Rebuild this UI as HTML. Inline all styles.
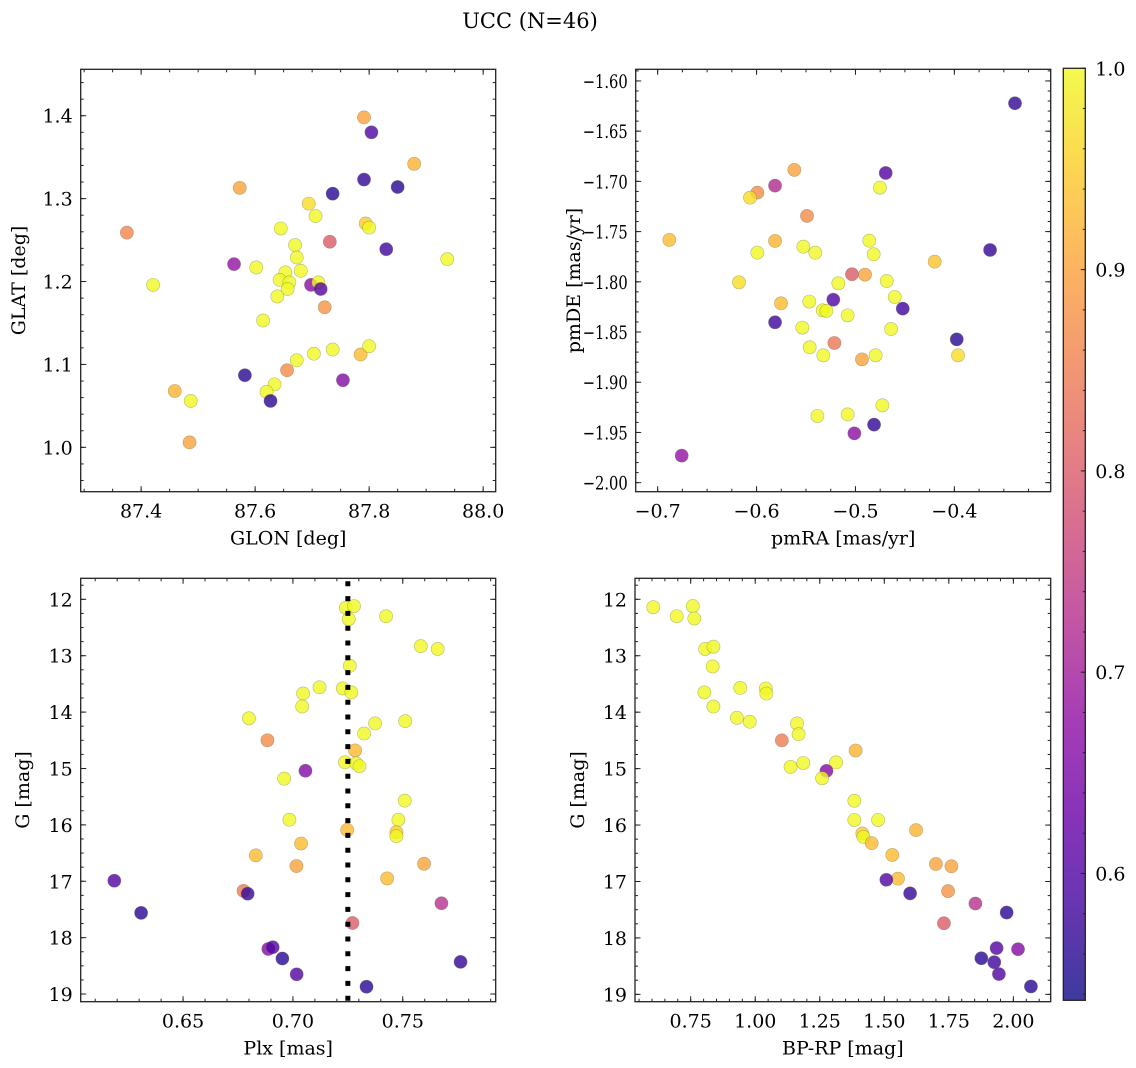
<!DOCTYPE html>
<html><head><meta charset="utf-8"><style>
html,body{margin:0;padding:0;background:#fff;}
svg{display:block;font-family:"DejaVu Serif","Liberation Serif",serif;}
</style></head><body>
<svg id="fig" width="1136" height="1068" viewBox="0 0 1136 1068" xmlns="http://www.w3.org/2000/svg">
<defs>
<linearGradient id="plasma" x1="0" y1="1" x2="0" y2="0">
<stop offset="0" stop-color="#0d0887"/><stop offset="0.1" stop-color="#41049d"/><stop offset="0.2" stop-color="#6a00a8"/><stop offset="0.3" stop-color="#8f0da4"/><stop offset="0.4" stop-color="#b12a90"/><stop offset="0.5" stop-color="#cc4778"/><stop offset="0.6" stop-color="#e16462"/><stop offset="0.7" stop-color="#f2844b"/><stop offset="0.8" stop-color="#fca636"/><stop offset="0.9" stop-color="#fcce25"/><stop offset="1" stop-color="#f0f921"/>
</linearGradient>
</defs>
<text x="530" y="28" text-anchor="middle" font-size="21">UCC (N=46)</text>
</svg>
<script>
// ---- data: panel 1 (GLON vs GLAT)
const glon = [87.791,87.804,87.879,87.573,87.736,87.791,87.850,87.694,87.706,87.375,87.645,87.794,87.800,87.731,87.670,87.830,87.563,87.602,87.673,87.680,87.653,87.937,87.421,87.643,87.660,87.657,87.698,87.711,87.715,87.639,87.722,87.614,87.736,87.703,87.673,87.785,87.800,87.656,87.754,87.582,87.634,87.620,87.459,87.487,87.627,87.485];
const glat = [1.398,1.380,1.342,1.313,1.306,1.323,1.314,1.294,1.279,1.259,1.264,1.270,1.265,1.248,1.244,1.239,1.221,1.217,1.229,1.213,1.211,1.227,1.196,1.202,1.199,1.191,1.196,1.199,1.191,1.182,1.169,1.153,1.118,1.113,1.105,1.112,1.122,1.093,1.081,1.087,1.076,1.067,1.068,1.056,1.056,1.006];
const probPos = [0.9,0.6,0.92,0.9,0.56,0.57,0.56,0.97,1,0.86,1,0.95,1,0.8,1,0.58,0.68,1,1,1,1,1,1,1,1,1,0.67,1,0.6,1,0.88,1,1,1,1,0.93,1,0.87,0.66,0.56,1,1,0.92,1,0.56,0.9];
// ---- data: panel 2 (pmRA vs pmDE)
const pmra = [-0.3387,-0.4694,-0.4752,-0.5618,-0.5813,-0.5992,-0.6066,-0.5490,-0.6882,-0.5813,-0.5992,-0.5527,-0.5406,-0.4860,-0.4816,-0.3639,-0.4199,-0.5035,-0.4903,-0.6178,-0.5173,-0.4684,-0.5753,-0.5467,-0.5224,-0.4603,-0.4522,-0.5331,-0.5294,-0.5079,-0.5813,-0.5537,-0.4640,-0.5213,-0.3976,-0.5463,-0.5325,-0.4934,-0.4796,-0.3963,-0.4728,-0.5079,-0.5385,-0.4812,-0.5011,-0.6757];
const pmde = [-1.6222,-1.6916,-1.7062,-1.6886,-1.7042,-1.7112,-1.7162,-1.7344,-1.7583,-1.7593,-1.7710,-1.7650,-1.7710,-1.7590,-1.7726,-1.7683,-1.7799,-1.7925,-1.7929,-1.8005,-1.8015,-1.7992,-1.8214,-1.8197,-1.8178,-1.8151,-1.8267,-1.8284,-1.8290,-1.8334,-1.8403,-1.8456,-1.8470,-1.8609,-1.8573,-1.8652,-1.8732,-1.8772,-1.8732,-1.8732,-1.9230,-1.9320,-1.9336,-1.9422,-1.9509,-1.9731];
const probPm = [0.57,0.6,1,0.9,0.72,0.87,0.97,0.87,0.93,0.92,1,1,1,1,1,0.57,0.94,0.8,0.9,0.97,1,1,0.93,1,0.6,1,0.58,1,1,1,0.58,1,1,0.84,0.56,1,1,0.9,1,0.97,1,1,1,0.57,0.67,0.68];
// ---- data: panel 3 (Plx vs G)
const plx = [0.7241,0.7278,0.7254,0.7424,0.7582,0.7659,0.7259,0.7121,0.7227,0.7266,0.7046,0.7042,0.7374,0.7511,0.6800,0.7324,0.6884,0.7283,0.7237,0.7288,0.7303,0.7057,0.6960,0.7509,0.6984,0.7480,0.7471,0.7471,0.7247,0.7037,0.6831,0.7016,0.7597,0.7429,0.6187,0.6775,0.6794,0.7676,0.6309,0.7271,0.6888,0.6908,0.6952,0.7763,0.7017,0.7335];
const gPlx = [12.15,12.12,12.35,12.30,12.83,12.88,13.18,13.56,13.58,13.65,13.67,13.90,14.20,14.16,14.11,14.38,14.50,14.68,14.89,14.91,14.96,15.04,15.18,15.57,15.91,15.91,16.13,16.20,16.09,16.33,16.54,16.73,16.69,16.95,16.99,17.17,17.22,17.39,17.56,17.74,18.20,18.17,18.37,18.43,18.65,18.87];
const probPlx = [1,1,1,1,1,1,1,1,1,1,1,1,1,1,1,1,0.87,0.93,1,1,1,0.66,1,1,1,1,0.95,1,0.93,0.93,0.93,0.9,0.9,0.93,0.6,0.85,0.57,0.73,0.56,0.8,0.66,0.6,0.56,0.57,0.6,0.56];
const plxMedian = [0.725];
// ---- data: panel 4 (BP-RP vs G)
const bprp = [0.605,0.696,0.758,0.764,0.806,0.838,0.835,0.803,0.838,0.942,1.041,1.043,0.929,0.979,1.162,1.168,1.103,1.389,1.137,1.186,1.313,1.276,1.259,1.384,1.384,1.476,1.415,1.419,1.451,1.623,1.531,1.700,1.760,1.553,1.508,1.600,1.747,1.853,1.731,1.974,1.935,2.018,1.876,1.926,1.944,2.068];
const gCmd = [12.14,12.30,12.12,12.34,12.88,12.84,13.19,13.65,13.90,13.57,13.58,13.67,14.10,14.17,14.20,14.39,14.50,14.68,14.97,14.90,14.89,15.04,15.17,15.57,15.91,15.91,16.15,16.21,16.32,16.09,16.53,16.69,16.73,16.95,16.97,17.21,17.17,17.39,17.74,17.55,18.18,18.20,18.36,18.43,18.64,18.86];
const probCmd = [1,1,1,1,1,1,1,1,1,1,1,1,1,1,1,1,0.85,0.92,1,1,1,0.66,1,1,1,1,0.95,1,0.93,0.92,0.93,0.9,0.9,0.93,0.6,0.57,0.88,0.73,0.8,0.56,0.6,0.66,0.56,0.58,0.6,0.56];
// ---- tick labels
const tlXTicks = [87.4,87.6,87.8,88.0];
const tlYTicks = [1.0,1.1,1.2,1.3,1.4];
const trXTicks = [-0.7,-0.6,-0.5,-0.4];
const trYTicks = [-1.60,-1.65,-1.70,-1.75,-1.80,-1.85,-1.90,-1.95,-2.00];
const blXTicks = [0.65,0.70,0.75];
const gTicks = [12,13,14,15,16,17,18,19];
const brXTicks = [0.75,1.00,1.25,1.50,1.75,2.00];
const cbTicks = [0.6,0.7,0.8,0.9,1.0];
const cbMin = 0.537, cbMax = 1.0;

const NS = "http://www.w3.org/2000/svg";
const fig = document.getElementById('fig');
const FS = 19;
function mk(tag, attrs, parent){const e=document.createElementNS(NS,tag);for(const k in attrs)e.setAttribute(k,attrs[k]);(parent||fig).appendChild(e);return e;}
const stops=[[0,[13,8,135]],[0.1,[65,4,157]],[0.2,[106,0,168]],[0.3,[143,13,164]],[0.4,[177,42,144]],[0.5,[204,71,120]],[0.6,[225,100,98]],[0.7,[242,132,75]],[0.8,[252,166,54]],[0.9,[252,206,37]],[1,[240,249,33]]];
function plasma(t){t=Math.max(0,Math.min(1,t));for(let i=0;i<stops.length-1;i++){const a=stops[i],b=stops[i+1];if(t<=b[0]){const f=(t-a[0])/(b[0]-a[0]);const c=a[1].map((v,j)=>Math.round(v+(b[1][j]-v)*f));return `rgb(${c[0]},${c[1]},${c[2]})`;}}return 'rgb(240,249,33)';}
function fmt(v,d){const s=Math.abs(v).toFixed(d);return (v<0?'\u2212':'')+s;}

function panel(cfg){
  const g=mk('g',{});
  
  
  const {px0,px1,py0,py1,xmin,xmax,ytop,ybot}=cfg;
  const sx=v=>px0+(v-xmin)/(xmax-xmin)*(px1-px0);
  const sy=v=>py0+(v-ytop)/(ybot-ytop)*(py1-py0);
  const pg=mk('g',{},g);
  
  
  for(let i=0;i<cfg.xs.length;i++){
    const c=mk('circle',{cx:sx(cfg.xs[i]).toFixed(2),cy:sy(cfg.ys[i]).toFixed(2),r:6.6,fill:plasma((cfg.ps[i]-cbMin)/(cbMax-cbMin)),'fill-opacity':0.8,stroke:'#6b6b40','stroke-opacity':0.45,'stroke-width':0.6},pg);
    
    
  }
  if(cfg.vline){
    for(const v of cfg.vline){
      const l=mk('line',{x1:sx(v),x2:sx(v),y1:py0+3,y2:py1,stroke:'#000','stroke-width':5,'stroke-dasharray':'5 9.8'},g);
      
      
    }
  }
  const fr=mk('rect',{x:px0,y:py0,width:px1-px0,height:py1-py0,fill:'none',stroke:'#222','stroke-width':1.3},g);
  
  
  const tk=mk('g',{stroke:'#222','stroke-width':1},g);
  const mj=5.5, mn=3;
  for(let v=Math.ceil(xmin/cfg.xminor)*cfg.xminor; v<=xmax; v+=cfg.xminor){
    const x=sx(v);mk('line',{x1:x,x2:x,y1:py1,y2:py1-mn},tk);mk('line',{x1:x,x2:x,y1:py0,y2:py0+mn},tk);
  }
  const ylo=Math.min(ytop,ybot), yhi=Math.max(ytop,ybot);
  for(let v=Math.ceil(ylo/cfg.yminor)*cfg.yminor; v<=yhi; v+=cfg.yminor){
    const y=sy(v);mk('line',{x1:px0,x2:px0+mn,y1:y,y2:y},tk);mk('line',{x1:px1,x2:px1-mn,y1:y,y2:y},tk);
  }
  for(const v of cfg.xt){
    const x=sx(v);mk('line',{x1:x,x2:x,y1:py1,y2:py1-mj},tk);mk('line',{x1:x,x2:x,y1:py0,y2:py0+mj},tk);
    const t=mk('text',{x:x,y:py1+26,'text-anchor':'middle','font-size':FS},g);t.textContent=fmt(v,cfg.xd);
    
    
  }
  for(const v of cfg.yt){
    const y=sy(v);mk('line',{x1:px0,x2:px0+mj,y1:y,y2:y},tk);mk('line',{x1:px1,x2:px1-mj,y1:y,y2:y},tk);
    const at={x:px0-8,y:y+7,'text-anchor':'end','font-size':FS};
    if(v<0){at.textLength=45;at.lengthAdjust='spacingAndGlyphs';}
    const t=mk('text',at,g);t.textContent=fmt(v,cfg.yd);
    
    
  }
  const xl=mk('text',{x:(px0+px1)/2,y:py1+53,'text-anchor':'middle','font-size':FS},g);xl.textContent=cfg.xlabel;
  
  
  const cy=(py0+py1)/2;
  const yl=mk('text',{x:cfg.ylx,y:cy,'text-anchor':'middle','font-size':FS,transform:`rotate(-90 ${cfg.ylx} ${cy})`},g);yl.textContent=cfg.ylabel;
  
  
}

panel({name:'glon-glat-panel',px0:80.7,px1:495.7,py0:69.3,py1:491.7,xmin:87.294,xmax:88.022,ytop:1.456,ybot:0.9465,xs:glon,ys:glat,ps:probPos,xt:tlXTicks,yt:tlYTicks,xd:1,yd:1,xminor:0.05,yminor:0.02,xlabel:'GLON [deg]',ylabel:'GLAT [deg]',ylx:25});
panel({name:'pm-panel',px0:635.7,px1:1050.7,py0:69.3,py1:491.7,xmin:-0.7222,xmax:-0.3026,ytop:-1.5884,ybot:-2.009,xs:pmra,ys:pmde,ps:probPm,xt:trXTicks,yt:trYTicks,xd:1,yd:2,xminor:0.025,yminor:0.01,xlabel:'pmRA [mas/yr]',ylabel:'pmDE [mas/yr]',ylx:580});
panel({name:'plx-g-panel',px0:80.7,px1:495.7,py0:578.3,py1:1001.7,xmin:0.6034,xmax:0.7923,ytop:11.627,ybot:19.136,xs:plx,ys:gPlx,ps:probPlx,xt:blXTicks,yt:gTicks,xd:2,yd:0,xminor:0.01,yminor:0.25,xlabel:'Plx [mas]',ylabel:'G [mag]',ylx:29,vline:plxMedian});
panel({name:'cmd-panel',px0:635,px1:1050.7,py0:578.3,py1:1001.7,xmin:0.5343,xmax:2.1446,ytop:11.628,ybot:19.13,xs:bprp,ys:gCmd,ps:probCmd,xt:brXTicks,yt:gTicks,xd:2,yd:0,xminor:0.05,yminor:0.25,xlabel:'BP-RP [mag]',ylabel:'G [mag]',ylx:584});

(function(){
  const x0=1063.3,x1=1085.3,y0=68.3,y1=1000.3;
  const g=mk('g',{});
  
  
  mk('rect',{x:x0,y:y0,width:x1-x0,height:y1-y0,fill:'url(#plasma)','fill-opacity':0.8},g);
  mk('rect',{x:x0,y:y0,width:x1-x0,height:y1-y0,fill:'none',stroke:'#222','stroke-width':1.3},g);
  const sy=v=>y1-(v-cbMin)/(cbMax-cbMin)*(y1-y0);
  for(let v=0.54; v<=1.0001; v+=0.02){const y=sy(v);mk('line',{x1:x1,x2:x1-2.5,y1:y,y2:y,stroke:'#222','stroke-width':1},g);}
  for(const v of cbTicks){const y=sy(v);mk('line',{x1:x1,x2:x1-4.5,y1:y,y2:y,stroke:'#222','stroke-width':1},g);
    const t=mk('text',{x:x1+10,y:y+7,'font-size':FS},g);t.textContent=v.toFixed(1);
    
    }
})();
</script>
</body></html>
